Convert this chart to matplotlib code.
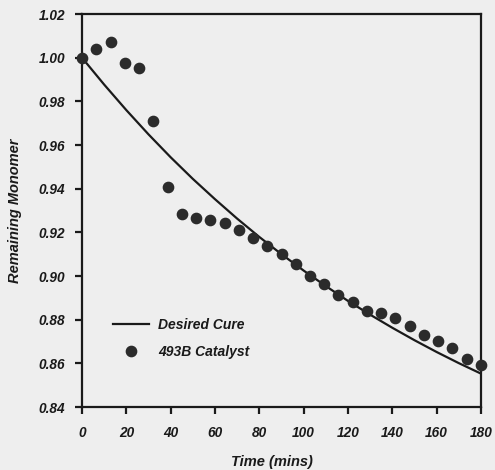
import matplotlib
matplotlib.use("Agg")
import matplotlib.pyplot as plt

# Desired cure curve (every 10 mins)
cure_time = [0, 10, 20, 30, 40, 50, 60, 70, 80, 90,
             100, 110, 120, 130, 140, 150, 160, 170, 180]
cure_monomer = [1.0000, 0.9877, 0.9760, 0.9649, 0.9544, 0.9445, 0.9352, 0.9263, 0.9179, 0.9100,
                0.9025, 0.8954, 0.8886, 0.8823, 0.8763, 0.8706, 0.8652, 0.8601, 0.8553]

# 493B catalyst measurements
cat_time = [0, 6.4, 12.9, 19.3, 25.7, 32.1, 38.6, 45.0, 51.4, 57.9,
            64.3, 70.7, 77.1, 83.6, 90.0, 96.4, 102.9, 109.3, 115.7, 122.1,
            128.6, 135.0, 141.4, 147.9, 154.3, 160.7, 167.1, 173.6, 180.0]
cat_monomer = [1.0000, 1.0038, 1.0071, 0.9974, 0.9952, 0.9709, 0.9406, 0.9283, 0.9268, 0.9257,
               0.9242, 0.9213, 0.9173, 0.9138, 0.9100, 0.9054, 0.8999, 0.8962, 0.8913, 0.8879,
               0.8840, 0.8829, 0.8806, 0.8771, 0.8732, 0.8703, 0.8671, 0.8622, 0.8592]

xticks = [0, 20, 40, 60, 80, 100, 120, 140, 160, 180]
yticks = [0.84, 0.86, 0.88, 0.90, 0.92, 0.94, 0.96, 0.98, 1.00, 1.02]

plt.rcParams["font.family"] = ["Liberation Sans", "DejaVu Sans"]
bg = "#eeeeee"
ink = "#1a1a1a"

fig = plt.figure(figsize=(4.95, 4.70), dpi=100, facecolor=bg)
ax = fig.add_axes([0.1657, 0.134, 0.806, 0.836], facecolor=bg)

ax.plot(cure_time, cure_monomer, color=ink, linewidth=1.6, label="Desired Cure")
ax.plot(cat_time, cat_monomer, linestyle="none", marker="o", markersize=7.4,
        color="#2b2b2b", markeredgecolor="#2b2b2b", label="493B Catalyst", clip_on=False, zorder=3)

ax.set_xlim(0, 180)
ax.set_ylim(0.84, 1.02)
ax.set_xticks(xticks)
ax.set_yticks(yticks)
ax.set_xticklabels([str(t) for t in xticks])
ax.set_yticklabels(["%.2f" % v for v in yticks])

for lab in ax.get_xticklabels() + ax.get_yticklabels():
    lab.set_fontweight("bold")
    lab.set_fontstyle("italic")
    lab.set_fontsize(9.8)
    lab.set_color(ink)

ax.tick_params(direction="out", length=5, width=1.6, color=ink)
ax.tick_params(axis="x", pad=9)
ax.tick_params(axis="y", pad=7)
for sp in ax.spines.values():
    sp.set_linewidth(1.6)
    sp.set_color(ink)

ax.set_xlabel("Time (mins)", fontsize=10.5, fontweight="bold", fontstyle="italic",
              color=ink)
ax.set_ylabel("Remaining Monomer", fontsize=10.5, fontweight="bold", fontstyle="italic",
              color=ink, labelpad=12)
ax.xaxis.set_label_coords(0.475, -0.122)

leg = ax.legend(loc="center left", bbox_to_anchor=(0.077, 0.174), frameon=False,
                handlelength=2.6, handletextpad=0.65, labelspacing=0.95,
                borderpad=0, borderaxespad=0,
                prop={"weight": "bold", "style": "italic", "size": 10})
for t in leg.get_texts():
    t.set_color(ink)

fig.savefig("out.png", dpi=100, facecolor=bg)
